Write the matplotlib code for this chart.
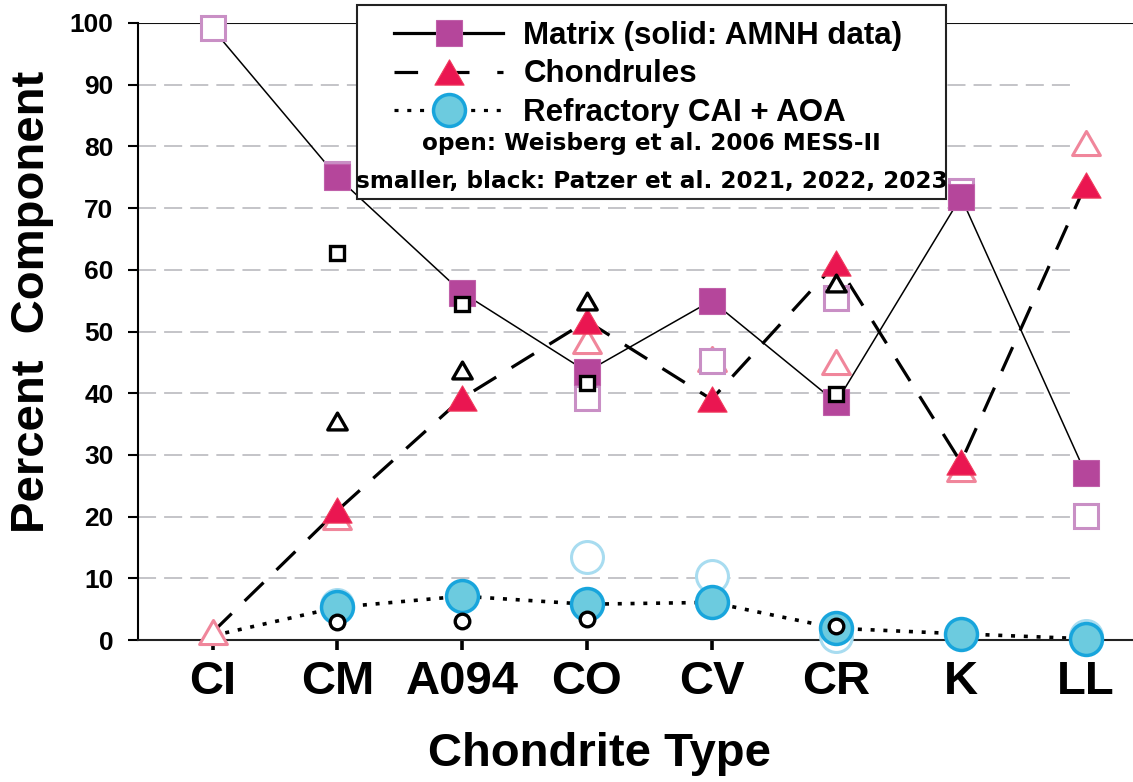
import numpy as np
import matplotlib
matplotlib.use("Agg")
import matplotlib.pyplot as plt
from matplotlib.lines import Line2D
from matplotlib.patches import Rectangle
from matplotlib.path import Path

plt.rcParams['font.family'] = ['Liberation Sans', 'DejaVu Sans']
plt.rcParams['font.weight'] = 'bold'
plt.rcParams['lines.scale_dashes'] = False

nan = np.nan
categories = ['CI', 'CM', 'A094', 'CO', 'CV', 'CR', 'K', 'LL']

# Matrix
matrix_line = [99, 75, 56.3, 43.5, 55, 38.5, 71.8, 27]
matrix_amnh = [nan, 75, 56.3, 43.5, 55, 38.5, 71.8, 27]
matrix_weis = [99.2, 75.5, nan, 39.3, 45.2, 55.4, 72.8, 20.1]
matrix_patz = [nan, 62.8, 54.4, 41.6, nan, 39.8, nan, nan]

# Chondrules
chond_line = [1.3, 21, 39.2, 51.7, 39, 61.1, 28.8, 73.8]
chond_amnh = [nan, 21, 39.2, 51.7, 39, 61.1, 28.8, 73.8]
chond_weis = [1.3, 20, nan, 48.4, 45.6, 45.0, 27.7, 80.6]
chond_patz = [nan, 35.5, 43.7, 54.9, nan, 57.9, nan, nan]

# Refractory CAI + AOA
refr_line = [0.7, 5.3, 7.1, 5.8, 6.1, 1.9, 1.0, 0.2]
refr_amnh = [nan, 5.3, 7.1, 5.8, 6.1, 1.9, 1.0, 0.2]
refr_weis = [nan, 5.6, nan, 13.4, 10.3, 0.7, nan, 0.7]
refr_patz = [nan, 2.9, 3.1, 3.4, nan, 2.3, nan, nan]

x = np.arange(len(categories))

# colours
PURPLE = '#b5469b'
PURPLE_E = '#c060aa'
PURPLE_OPEN = '#c98fc5'
RED = '#ea1651'
RED_E = '#f03a5c'
PINK_OPEN = '#f0869b'
CYAN = '#6ccbdf'
CYAN_E = '#18a5dc'
CYAN_OPEN = '#a8dcf0'

tri = Path([(-1, -0.866), (1, -0.866), (0, 0.866), (-1, -0.866)], closed=True)

fig = plt.figure(figsize=(11.33, 7.82), dpi=100)
ax = fig.add_axes([138/1133, 1-640/782, 1-138/1133, 617/782])

ax.set_xlim(-0.60, 7.38)
ax.set_ylim(0, 100)

# gridlines
for g in range(10, 100, 10):
    ax.plot([-0.60, 6.93], [g, g], color='#c4c4c8', lw=1.4, dashes=(13, 5.8), zorder=0.5)
ax.axhline(100, color='#111111', lw=1.5, zorder=0.6)

# lines
ax.plot(x, matrix_line, color='black', lw=1.1, zorder=1)
ax.plot(x, chond_line, color='black', lw=2.3, dashes=(19, 13), zorder=1)
ax.plot(x, refr_line, color='black', lw=2.6, dashes=(2.9, 6.3), zorder=1)

mk = dict(ls='none', clip_on=False)
# open (Weisberg) markers
ax.plot(x, chond_weis, marker=tri, ms=20, mfc='white', mec=PINK_OPEN, mew=2.2, zorder=3, **mk)
ax.plot(x, refr_weis, marker='o', ms=23, mfc='white', mec=CYAN_OPEN, mew=2.2, zorder=3, **mk)
ax.plot(x, matrix_weis, marker='s', ms=17.5, mfc='white', mec=PURPLE_OPEN, mew=2.2, zorder=4, **mk)

# filled (AMNH) markers
ax.plot(x, matrix_amnh, marker='s', ms=19.2, mfc=PURPLE, mec=PURPLE_E, mew=0.8, zorder=5, **mk)
ax.plot(x, chond_amnh, marker=tri, ms=21, mfc=RED, mec=RED_E, mew=0.8, zorder=5, **mk)
ax.plot(x, refr_amnh, marker='o', ms=23, mfc=CYAN, mec=CYAN_E, mew=2.5, zorder=5, **mk)

# Patzer (small, black)
ax.plot(x, matrix_patz, marker='s', ms=10, mfc='white', mec='black', mew=2.4, zorder=6, **mk)
ax.plot(x, chond_patz, marker=tri, ms=14, mfc='white', mec='black', mew=2.4, zorder=6, **mk)
ax.plot(x, refr_patz, marker='o', ms=10.5, mfc='white', mec='black', mew=2.4, zorder=6, **mk)

# axes styling
for s in ['top', 'right']:
    ax.spines[s].set_visible(False)
ax.spines['left'].set_linewidth(1.5)
ax.spines['bottom'].set_linewidth(1.5)
ax.spines['bottom'].set_color('#222222')

ax.set_xticks(x)
ax.set_xticklabels(categories, fontsize=34, fontweight='bold')
ax.set_yticks(range(0, 101, 10))
ax.set_yticklabels([str(v) for v in range(0, 101, 10)], fontsize=19, fontweight='bold')
ax.tick_params(axis='x', length=7.2, width=2.6, pad=7, direction='out')
ax.tick_params(axis='y', length=7.2, width=1.5, pad=10.5, direction='out')

ax.set_xlabel('Chondrite Type', fontsize=34, fontweight='bold', va='center')
ax.xaxis.set_label_coords(0.464, -0.184)
ax.set_ylabel('Percent  Component', fontsize=34, fontweight='bold', va='center')
ax.yaxis.set_label_coords(-0.1065, 0.548)

# legend box
box = Rectangle((357/1133, 1-199/782), 589/1133, 194/782, transform=fig.transFigure,
                facecolor='white', edgecolor='#222222', lw=1.5, zorder=10)
fig.patches.append(box)

handles = [
    Line2D([], [], color='black', lw=2.3, marker='s', ms=19.2, mfc=PURPLE, mec=PURPLE_E, mew=0.8),
    Line2D([], [], color='black', lw=2.3, dashes=(17, 20), marker=tri, ms=21, mfc=RED, mec=RED_E, mew=0.8),
    Line2D([], [], color='black', lw=2.3, dashes=(2.9, 6.3), marker='o', ms=23, mfc=CYAN, mec=CYAN_E, mew=2.5),
]
labels = ['Matrix (solid: AMNH data)', 'Chondrules', 'Refractory CAI + AOA']
leg = fig.legend(handles, labels, loc='upper left', bbox_to_anchor=(394/1133, 1-21/782),
                 frameon=False, handlelength=3.5, handletextpad=0.64, labelspacing=0.27,
                 borderpad=0, borderaxespad=0, prop={'size': 22.5, 'weight': 'bold'})
leg.set_zorder(11)

fig.text(651/1133, 1-150/782, 'open: Weisberg et al. 2006 MESS-II', ha='center', va='baseline',
         fontsize=16.7, fontweight='bold', family='DejaVu Sans', zorder=12)
fig.text(652/1133, 1-188/782, 'smaller, black: Patzer et al. 2021, 2022, 2023', ha='center', va='baseline',
         fontsize=16.7, fontweight='bold', family='DejaVu Sans', zorder=12)

fig.savefig('out.png', dpi=100)
